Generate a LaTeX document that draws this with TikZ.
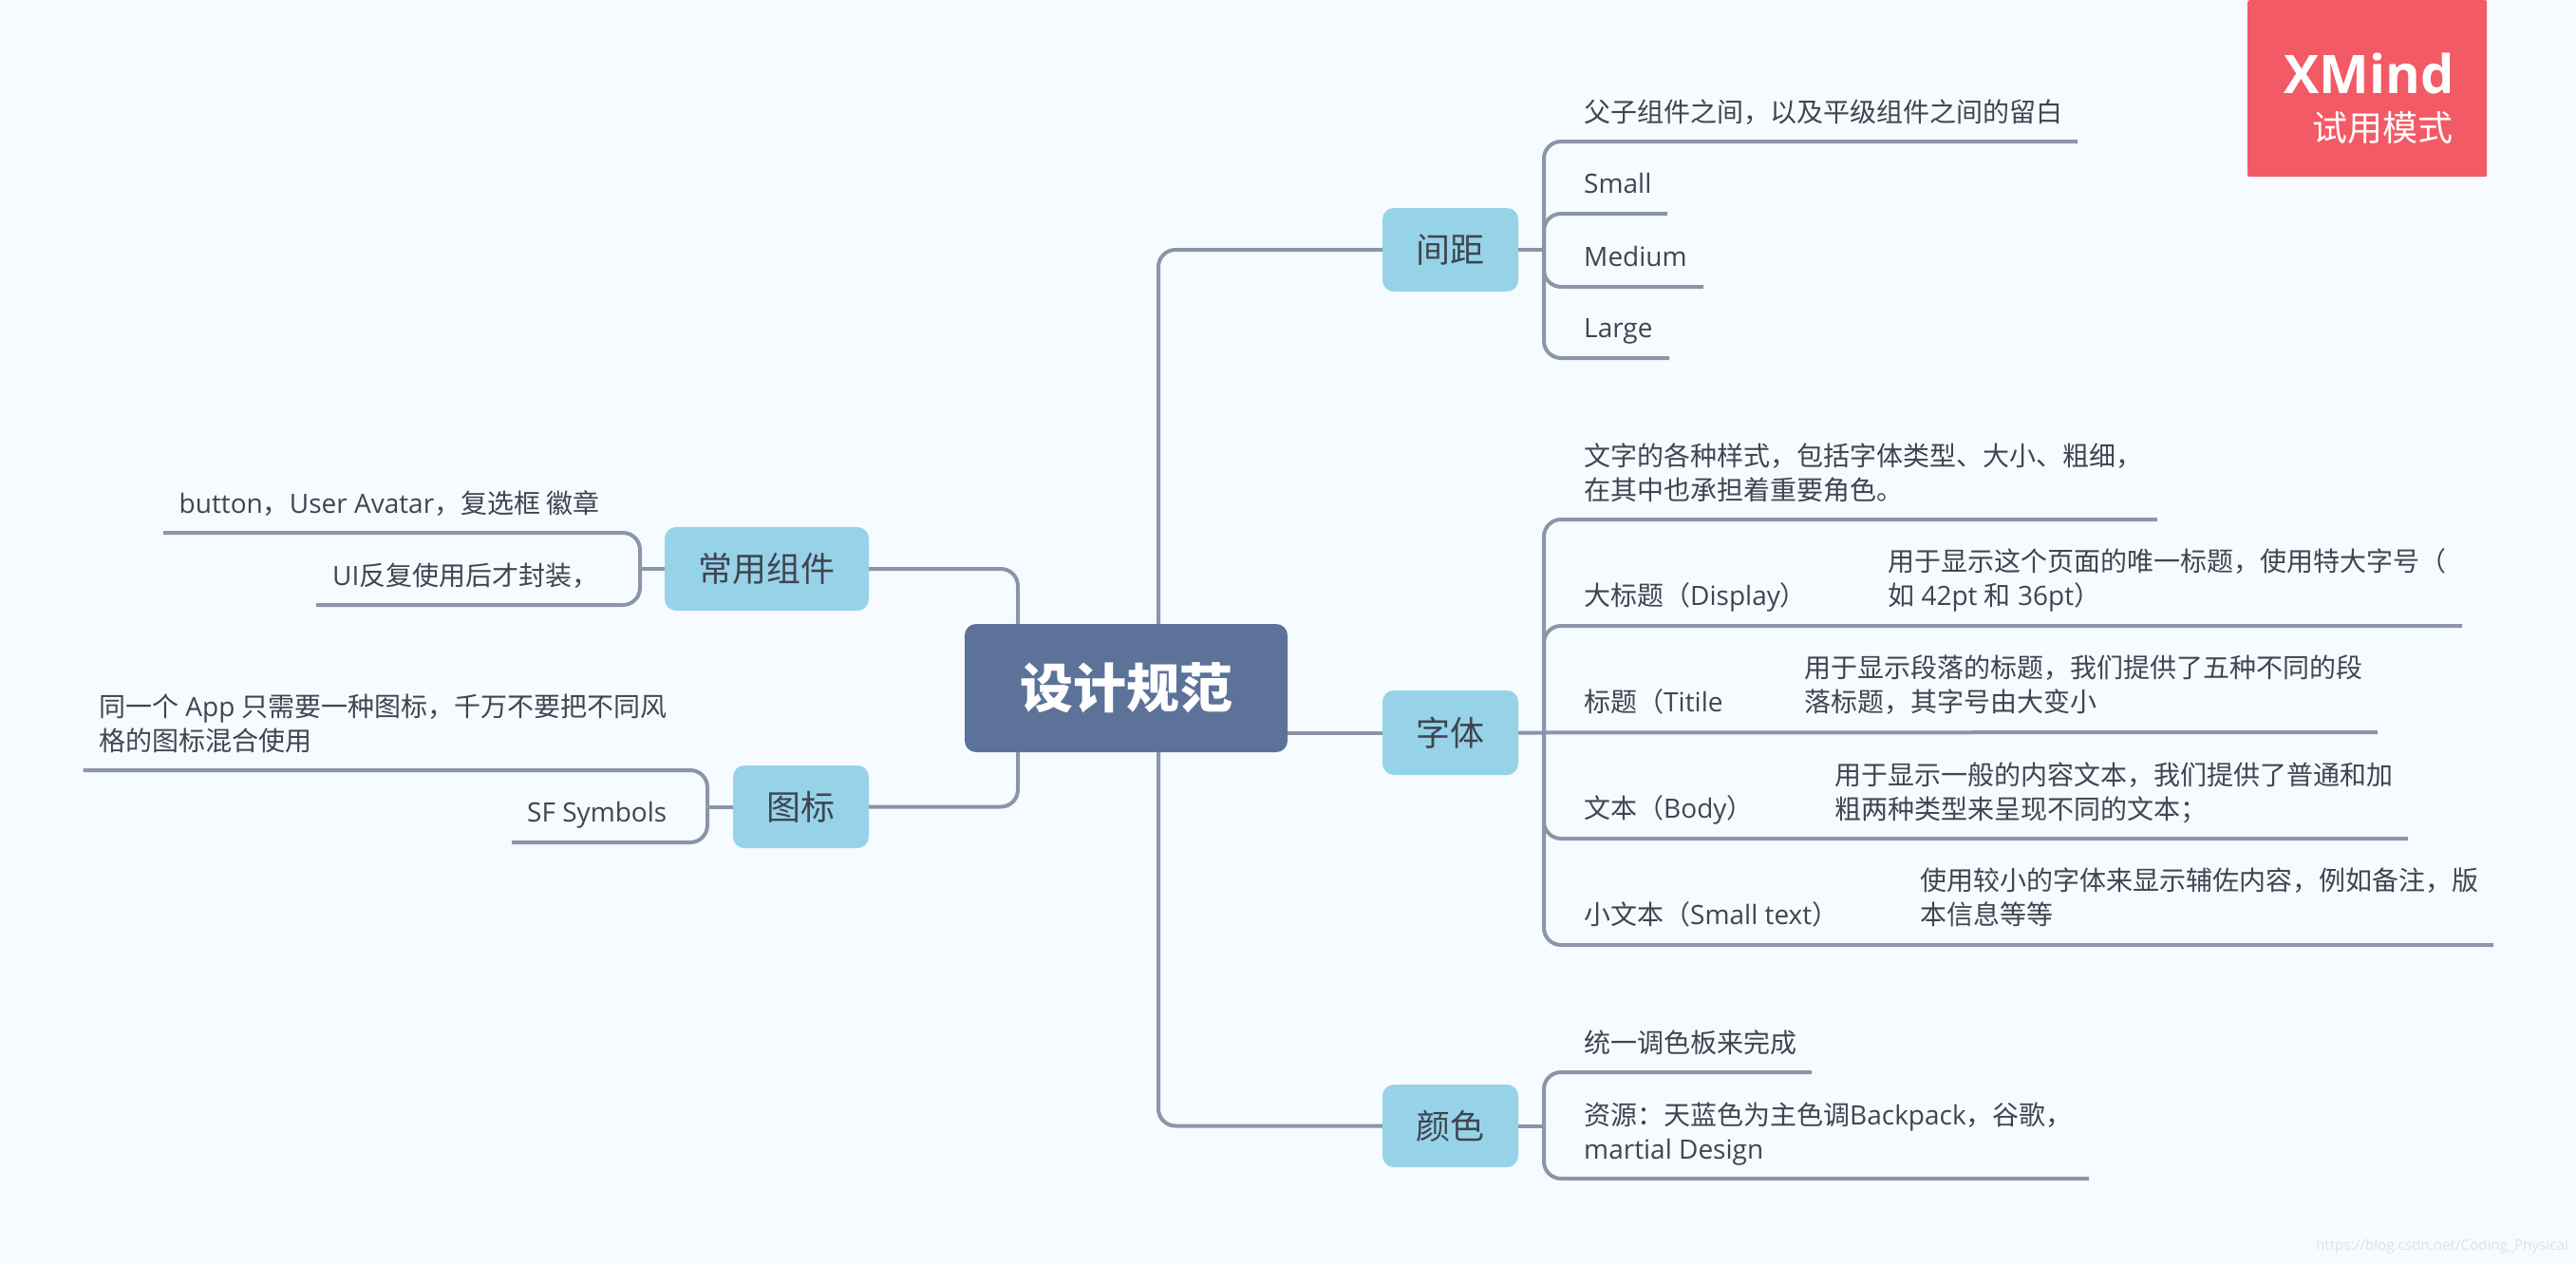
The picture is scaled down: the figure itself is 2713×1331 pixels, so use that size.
\documentclass[tikz,border=0pt]{standalone}
\usepackage{fontspec}
\setmainfont{Open Sans}
\newfontfamily\cjk{Noto Sans CJK SC}
\newcommand{\cj}[1]{{\cjk #1}}
\newcommand{\st}{\rule[-8pt]{0pt}{36pt}}
\definecolor{bgc}{HTML}{F6FBFF}
\definecolor{linec}{HTML}{8B95A9}
\definecolor{branchc}{HTML}{97D3E8}
\definecolor{rootc}{HTML}{5C7299}
\definecolor{txtc}{HTML}{3F4551}
\definecolor{logoc}{HTML}{F25A65}
\definecolor{markc}{HTML}{DDE2E8}
\tikzset{
  link/.style={draw=linec,line width=4pt,rounded corners=18pt},
  branchbox/.style={fill=branchc,rounded corners=12pt,inner sep=0pt,text=txtc,font=\cjk\fontsize{36}{44}\selectfont,anchor=center},
  rootbox/.style={fill=rootc,rounded corners=12pt,inner sep=0pt,text=white,font=\cjk\bfseries\fontsize{56}{66}\selectfont,anchor=center},
  leaftext/.style={inner sep=0pt,anchor=west,align=left,text=txtc,font=\fontsize{28}{36}\selectfont}
}
\begin{document}
\begin{tikzpicture}[x=1pt,y=-1pt]
\fill[bgc] (0,0) rectangle (2713,1331);
\useasboundingbox (0,0) rectangle (2713,1331);
% watermark
\node[anchor=east,inner sep=0pt,text=markc,font=\fontsize{15.2}{18}\selectfont] (mark) at (2705,1313) {https://blog.csdn.net/Coding\_Physical};
% logo
\node[fill=logoc,rounded corners=2pt,minimum width=252pt,minimum height=186pt,inner sep=0pt,anchor=north west] (logo) at (2367,0) {};
\node[anchor=east,inner sep=0pt,text=white,font=\bfseries\fontsize{56}{64}\selectfont] (logoa) at (2585,77) {XMind};
\node[anchor=east,inner sep=0pt,text=white,font=\cjk\fontsize{37}{44}\selectfont] (logob) at (2584,135) {试用模式};
% root and branches
\node[rootbox,minimum width=340pt,minimum height=135pt] (root) at (1186,724.5) {设计规范};
\node[branchbox,minimum width=143pt,minimum height=88pt] (jj) at (1527.5,263) {间距};
\node[branchbox,minimum width=143pt,minimum height=89pt] (zt) at (1527.5,771.5) {字体};
\node[branchbox,minimum width=143pt,minimum height=87pt] (ys) at (1527.5,1185.5) {颜色};
\node[branchbox,minimum width=215pt,minimum height=88pt] (cy) at (807.5,599) {常用组件};
\node[branchbox,minimum width=143pt,minimum height=87pt] (tb) at (843.5,849.5) {图标};
% root connectors
\coordinate (rtop) at (1220,657);
\coordinate (rbot) at (1220,792);
\coordinate (ltop) at (1072,657);
\coordinate (lbot) at (1072,792);
\draw[link] (rtop) |- (jj.west);
\draw[link] (rbot) |- (ys.west);
\draw[link] (root.east |- zt.west) -- (zt.west);
\draw[link] (ltop) |- (cy.east);
\draw[link] (lbot) |- (tb.east);
% spacing
\coordinate (jjS) at (1626,263);
\coordinate (jj1) at (2188,149);
\coordinate (jj2) at (1756,225);
\coordinate (jj3) at (1794,302);
\coordinate (jj4) at (1758,377);
\draw[link] (jj.east) -- (jjS);
\foreach \e in {jj1,jj2,jj3,jj4} \draw[link] (jjS) |- (\e);
\node[leaftext] (jjt1) at (1668,118.5) {\st\cj{父子组件之间，以及平级组件之间的留白}};
\node[leaftext] (jjt2) at (1668,193.5) {\st Small};
\node[leaftext] (jjt3) at (1668,270.5) {\st Medium};
\node[leaftext] (jjt4) at (1668,345.5) {\st Large};
% type
\coordinate (ztS) at (1626,771);
\coordinate (zt1) at (2272,547);
\coordinate (zt2) at (2593,659);
\coordinate (zt3) at (2504,771);
\coordinate (zt4) at (2536,883);
\coordinate (zt5) at (2626,995);
\draw[link] (zt.east) -- (zt3);
\foreach \e in {zt1,zt2,zt4,zt5} \draw[link] (ztS) |- (\e);
\node[leaftext] (ztt1) at (1668,498.5) {\st\cj{文字的各种样式，包括字体类型、大小、粗细，}\\\st\cj{在其中也承担着重要角色。}};
\node[leaftext] (ztt2) at (1668,627) {\st\cj{大标题（}Display\cj{）}};
\node[leaftext] (ztd2) at (1988,609.5) {\st\cj{用于显示这个页面的唯一标题，使用特大字号（}\\\st\cj{如} 42pt \cj{和} 36pt\cj{）}};
\node[leaftext] (ztt3) at (1668,739) {\st\cj{标题（}Titile};
\node[leaftext] (ztd3) at (1900,721.5) {\st\cj{用于显示段落的标题，我们提供了五种不同的段}\\\st\cj{落标题，其字号由大变小}};
\node[leaftext] (ztt4) at (1668,851.5) {\st\cj{文本（}Body\cj{）}};
\node[leaftext] (ztd4) at (1932,834.5) {\st\cj{用于显示一般的内容文本，我们提供了普通和加}\\\st\cj{粗两种类型来呈现不同的文本；}};
\node[leaftext] (ztt5) at (1668,963) {\st\cj{小文本（}Small text\cj{）}};
\node[leaftext] (ztd5) at (2022,945.5) {\st\cj{使用较小的字体来显示辅佐内容，例如备注，版}\\\st\cj{本信息等等}};
% colour
\coordinate (ysS) at (1626,1185.5);
\coordinate (ys1) at (1908,1129);
\coordinate (ys2) at (2200,1241);
\draw[link] (ys.east) -- (ysS);
\foreach \e in {ys1,ys2} \draw[link] (ysS) |- (\e);
\node[leaftext] (yst1) at (1668,1098) {\st\cj{统一调色板来完成}};
\node[leaftext] (yst2) at (1668,1192) {\st\cj{资源：天蓝色为主色调}Backpack\cj{，谷歌，}\\\st martial Design};
% components
\coordinate (cyS) at (674,599);
\coordinate (cy1) at (172,561);
\coordinate (cy2) at (333,637);
\draw[link] (cy.west) -- (cyS);
\foreach \e in {cy1,cy2} \draw[link] (cyS) |- (\e);
\node[leaftext] (cyt1) at (188.5,530) {\st button\cj{，}User Avatar\cj{，复选框 徽章}};
\node[leaftext] (cyt2) at (350,606) {\st UI\cj{反复使用后才封装，}};
% icons
\coordinate (tbS) at (745,849.5);
\coordinate (tb1) at (87.5,811);
\coordinate (tb2) at (539,887);
\draw[link] (tb.west) -- (tbS);
\foreach \e in {tb1,tb2} \draw[link] (tbS) |- (\e);
\node[leaftext] (tbt1) at (104,762.5) {\st\cj{同一个} App \cj{只需要一种图标，千万不要把不同风}\\\st\cj{格的图标混合使用}};
\node[leaftext] (tbt2) at (555,855.5) {\st SF Symbols};
\end{tikzpicture}
\end{document}
